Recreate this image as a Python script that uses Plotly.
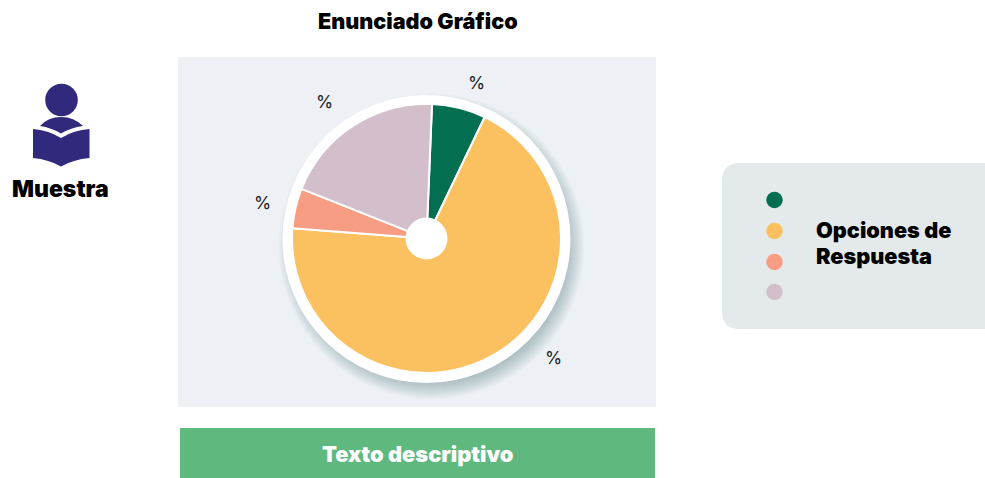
import plotly.graph_objects as go

options = ["Opción A", "Opción B", "Opción C", "Opción D"]
values = [6.46, 69.1, 4.8, 19.64]
colors = ["#036f50", "#fbc05f", "#f79d84", "#d2bfcb"]
pct_labels = ["%", "%", "%", "%"]

W, H = 985, 478
CX, CY, R = 426.5, 238.5, 134.5
HEAVY = "Inter"

def circle(cx, cy, r, **kw):
    return dict(type="circle", xref="x", yref="y", x0=cx - r, x1=cx + r, y0=cy - r, y1=cy + r,
                layer="below", line=dict(width=0), **kw)

def rect(x0, y0, x1, y1, fill):
    return dict(type="rect", xref="x", yref="y", x0=x0, x1=x1, y0=y0, y1=y1, layer="below",
                fillcolor=fill, line=dict(width=0))

def rrect(x0, y0, x1, y1, r, fill):
    path = (f"M{x0+r},{y0} L{x1},{y0} L{x1},{y1} L{x0+r},{y1} "
            f"Q{x0},{y1} {x0},{y1-r} L{x0},{y0+r} Q{x0},{y0} {x0+r},{y0} Z")
    return dict(type="path", xref="x", yref="y", path=path, layer="below", fillcolor=fill, line=dict(width=0))

shapes = [rect(178, 57, 656, 407, "#edf1f5"), rect(180, 428, 655, 478, "#5fb87e"),
          rrect(722, 163, 990, 329, 18, "#e4e9eb")]
# soft drop shadow behind the white plate
for i in range(22):
    shapes.append(circle(CX + 5, CY + 8, 153 - i * 1.0, fillcolor="rgba(70,80,90,0.019)"))
shapes.append(circle(CX, CY + 0.5, 144, fillcolor="#ffffff"))
# reader icon
ink = "#312a7c"
shapes.append(circle(61.5, 100, 16.3, fillcolor=ink))
shapes.append(dict(type="path", xref="x", yref="y", layer="below", fillcolor=ink, line=dict(width=0),
                   path="M40,126 Q48,117 61,117 Q74,117 83,126 Q71,127.5 61,133.5 Q51,127.5 40,126 Z"))
shapes.append(dict(type="path", xref="x", yref="y", layer="below", fillcolor=ink, line=dict(width=0),
                   path="M33,129 Q48,130 61,138 Q74,130 89.5,129 L89.5,158 Q73,159.5 61,166.5 Q49,159.5 33,158 Z"))

fig = go.Figure()
fig.add_trace(go.Pie(values=values, labels=options, marker=dict(colors=colors, line=dict(color="#ffffff", width=2)),
                     sort=False, direction="clockwise", rotation=2.35, hole=20 / 135, textinfo="none",
                     showlegend=False, domain=dict(x=[(CX - R) / W, (CX + R) / W],
                                                   y=[1 - (CY + R) / H, 1 - (CY - R) / H])))
fig.add_trace(go.Scatter(x=[774.5] * 4, y=[200, 231, 262, 292], mode="markers", showlegend=False,
                         marker=dict(size=16.5, color=colors, line=dict(width=0))))

def label(x, y, text, size, color="#000000", weight=900, anchor="center", family=HEAVY):
    return dict(x=x, y=y, xref="x", yref="y", text=text, showarrow=False, xanchor=anchor, yanchor="middle",
                align="left", font=dict(family=family, size=size, color=color, weight=weight))

annotations = [
    label(417.5, 21, "Enunciado Gráfico", 21.6),
    label(60.5, 189, "Muestra", 23),
    label(417, 454, "Texto descriptivo", 21.8, color="#ffffff"),
    label(814, 230, "Opciones de", 21.7, anchor="left"),
    label(814, 256, "Respuesta", 21.7, anchor="left"),
]
for (x, y), t in zip([(476, 82.5), (553, 357.5), (262, 202.5), (324, 101.5)], pct_labels):
    annotations.append(label(x, y, t, 17.5, color="#222222", weight=400, family="Inter"))

fig.update_layout(width=W, height=H, margin=dict(l=0, r=0, t=0, b=0), paper_bgcolor="#ffffff", plot_bgcolor="rgba(0,0,0,0)",
                  shapes=shapes, annotations=annotations,
                  xaxis=dict(range=[0, W], visible=False, fixedrange=True),
                  yaxis=dict(range=[H, 0], visible=False, fixedrange=True))
fig.write_html("out.html", config=dict(displayModeBar=False),
               post_script="document.body.style.margin='0';document.body.style.overflow='hidden';")
